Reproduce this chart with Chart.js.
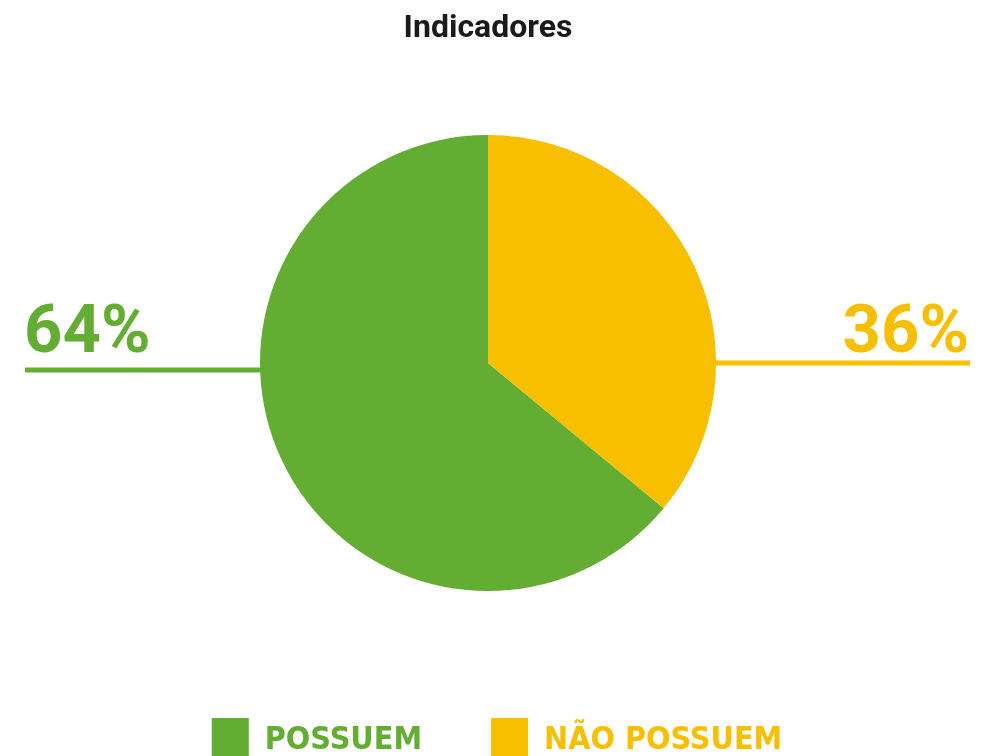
<!DOCTYPE html>
<html>
<head>
<meta charset="utf-8">
<script src="https://cdn.jsdelivr.net/npm/chart.js@4.4.1/dist/chart.umd.min.js"></script>
<style>
    html, body {
        margin: 0;
        padding: 0;
        background: #ffffff;
        overflow: hidden;
    }
</style>
</head>
<body>
<canvas id="indChart" width="992" height="774"></canvas>
<script>
// ==============================
// Data
// ==============================

const categories = ["POSSUEM", "NÃO POSSUEM"];
const values = [64, 36];
const colors = ["#63AD32", "#F8BF00"];

const total = values.reduce((a, b) => a + b, 0);

// ==============================
// Percent labels with lines
// ==============================

const percentLabels = {
    id: "percentLabels",
    afterLayout(chart) {
        // legend sits a little right of the pie centre
        chart.legend.left += 9;
        chart.legend.right += 9;
    },
    afterDraw(chart) {
        const ctx = chart.ctx;
        const arcs = chart.getDatasetMeta(0).data;

        ctx.save();
        ctx.font = "bold 67px Roboto";
        ctx.textBaseline = "alphabetic";

        arcs.forEach((arc, i) => {
            const r = arc.outerRadius;
            const pct = Math.round(values[i] / total * 100) + "%";
            const left = i === 0;
            const dy = left ? 7 : 0;
            const lineY = arc.y + dy;
            const edge = Math.sqrt(r * r - dy * dy);

            ctx.strokeStyle = colors[i];
            ctx.fillStyle = colors[i];
            ctx.lineWidth = 5;
            ctx.beginPath();
            if (left) {
                ctx.moveTo(25, lineY);
                ctx.lineTo(arc.x - edge + 2, lineY);
            } else {
                ctx.moveTo(arc.x + edge - 2, lineY);
                ctx.lineTo(970, lineY);
            }
            ctx.stroke();

            ctx.textAlign = left ? "left" : "right";
            ctx.fillText(pct, left ? 24 : 969, arc.y - 11);
        });

        ctx.restore();
    }
};

// ==============================
// Pie Chart
// ==============================

new Chart(document.getElementById("indChart"), {
    type: "pie",
    data: {
        labels: categories,
        datasets: [{
            data: values,
            backgroundColor: colors,
            borderWidth: 0,
            radius: 228
        }]
    },
    options: {
        responsive: false,
        animation: false,
        rotation: values[1] / total * 360,
        layout: {
            padding: { left: 0, right: 16, top: 0, bottom: 0 }
        },
        plugins: {
            title: {
                display: true,
                text: "Indicadores",
                color: "#1a1a1a",
                font: { family: "Roboto", size: 32, weight: "bold", lineHeight: 1.2 },
                padding: { top: 10, bottom: 28.6 }
            },
            legend: {
                position: "bottom",
                labels: {
                    boxWidth: 37,
                    boxHeight: 46,
                    padding: 69,
                    font: { family: "'DejaVu Sans Condensed', 'DejaVu Sans'", size: 32, weight: "bold" },
                    generateLabels(chart) {
                        const items = Chart.overrides.pie.plugins.legend.labels.generateLabels(chart);
                        items.forEach((item, i) => {
                            item.fontColor = colors[i];
                            item.strokeStyle = colors[i];
                            item.lineWidth = 0;
                        });
                        return items;
                    }
                }
            },
            tooltip: { enabled: false }
        }
    },
    plugins: [percentLabels]
});
</script>
</body>
</html>
